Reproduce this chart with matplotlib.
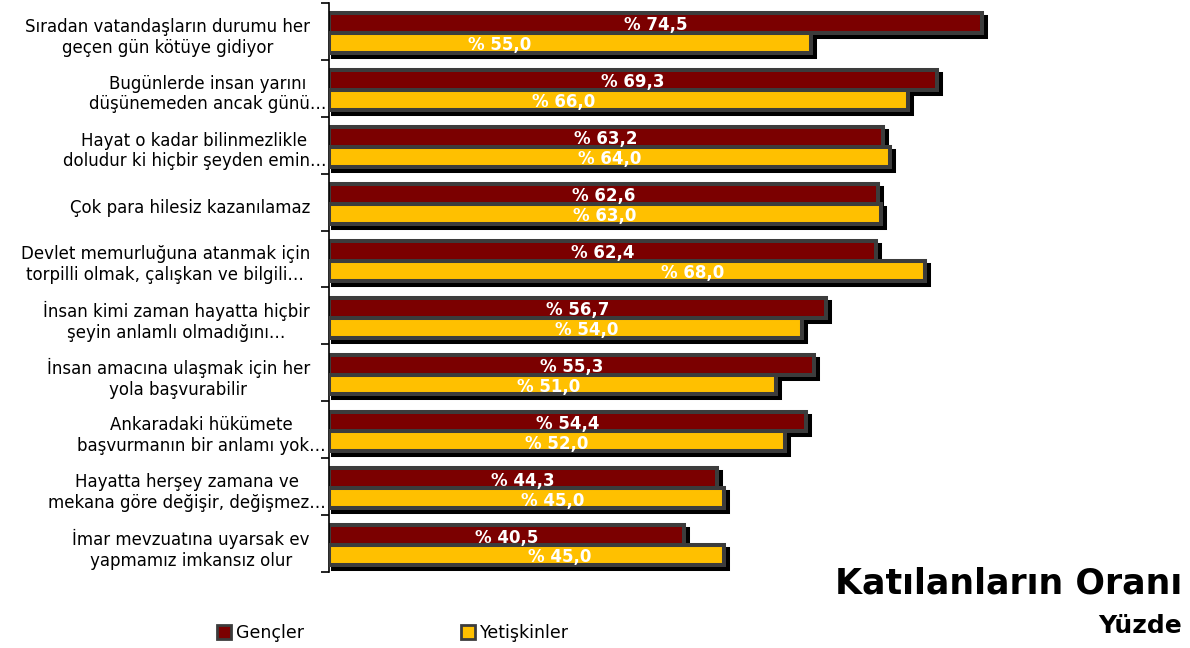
import matplotlib.pyplot as plt
import matplotlib.transforms as mtransforms
from matplotlib.patches import Patch
from matplotlib.textpath import TextPath
from matplotlib.font_manager import FontProperties
import numpy as np

# Veriler
kategoriler = [
    "Sıradan vatandaşların durumu her\ngeçen gün kötüye gidiyor",
    "Bugünlerde insan yarını\ndüşünemeden ancak günü…",
    "Hayat o kadar bilinmezlikle\ndoludur ki hiçbir şeyden emin…",
    "Çok para hilesiz kazanılamaz",
    "Devlet memurluğuna atanmak için\ntorpilli olmak, çalışkan ve bilgili…",
    "İnsan kimi zaman hayatta hiçbir\nşeyin anlamlı olmadığını…",
    "İnsan amacına ulaşmak için her\nyola başvurabilir",
    "Ankaradaki hükümete\nbaşvurmanın bir anlamı yok…",
    "Hayatta herşey zamana ve\nmekana göre değişir, değişmez…",
    "İmar mevzuatına uyarsak ev\nyapmamız imkansız olur",
]
gencler = [74.5, 69.3, 63.2, 62.6, 62.4, 56.7, 55.3, 54.4, 44.3, 40.5]
yetiskinler = [55.0, 66.0, 64.0, 63.0, 68.0, 54.0, 51.0, 52.0, 45.0, 45.0]
seri_adlari = ["Gençler", "Yetişkinler"]

# Yetişkinler etiketlerinin çubuk ortasından kayması (veri biriminde)
etiket_kayma = [-8.0, -6.2, 0.0, 0.0, 7.5, 2.4, -0.5, 0.0, 3.0, 3.8]

kirmizi = "#7b0000"
sari = "#ffc000"
kenar = "#3c3c3c"

fig = plt.figure(figsize=(11.9, 6.48), dpi=100)
ax = fig.add_axes([329 / 1190, 76 / 648, 789 / 1190, 569 / 648])

y = np.arange(len(kategoriler))
h = 0.35
golge = mtransforms.offset_copy(ax.transData, fig=fig, x=4, y=-4, units="dots")
lw = 2.9

# Gölgeler
ax.barh(y - h / 2 + 0.03, gencler, height=h, color="black", edgecolor="black",
        linewidth=lw, transform=golge, zorder=1)
ax.barh(y + h / 2 + 0.03, yetiskinler, height=h, color="black", edgecolor="black",
        linewidth=lw, transform=golge, zorder=1)

# Çubuklar
ax.barh(y - h / 2 + 0.03, gencler, height=h, color=kirmizi, edgecolor=kenar,
        linewidth=lw, zorder=2)
ax.barh(y + h / 2 + 0.03, yetiskinler, height=h, color=sari, edgecolor=kenar,
        linewidth=lw, zorder=3)

# Değer etiketleri
for i in range(len(kategoriler)):
    ax.text(gencler[i] / 2, y[i] - h / 2 + 0.07, "% " + f"{gencler[i]:.1f}".replace(".", ","),
            ha="center", va="center", color="white", fontsize=12,
            fontweight="bold", zorder=5)
    ax.text(yetiskinler[i] / 2 + etiket_kayma[i], y[i] + h / 2 + 0.07,
            "% " + f"{yetiskinler[i]:.1f}".replace(".", ","),
            ha="center", va="center", color="white", fontsize=12,
            fontweight="bold", zorder=5)

ax.set_xlim(0, 90)
ax.set_ylim(len(kategoriler) - 0.5, -0.5)

# Eksen görünümü
for s in ["top", "right", "bottom"]:
    ax.spines[s].set_visible(False)
ax.spines["left"].set_linewidth(1.2)
ax.set_xticks([])
ax.set_yticks(np.arange(len(kategoriler) + 1) - 0.5)
ax.set_yticklabels([])
ax.tick_params(axis="y", direction="out", length=6, width=1.2)

# Kategori etiketleri: en geniş satır "…" ile bitiyorsa taşar
yazi = FontProperties(family="DejaVu Sans", size=12)
karisik = mtransforms.blended_transform_factory(fig.transFigure, ax.transData)
for i, metin in enumerate(kategoriler):
    satirlar = metin.split("\n")
    en_genis = max(satirlar, key=lambda s: TextPath((0, 0), s, prop=yazi).get_extents().width)
    x = 326 if en_genis.endswith("…") else 310
    ax.text(x / 1190, y[i] + 0.1, metin, transform=karisik, ha="right",
            va="center", multialignment="center", fontproperties=yazi,
            linespacing=1.2, color="black")

# Lejant
tutamaclar = [Patch(facecolor=kirmizi, edgecolor=kenar, linewidth=2),
              Patch(facecolor=sari, edgecolor=kenar, linewidth=2)]
fig.legend(tutamaclar, seri_adlari, loc="center", bbox_to_anchor=(393 / 1190, 1 - 633 / 648),
           ncol=2, frameon=False, fontsize=12.5, handlelength=0.8, handleheight=0.8,
           handletextpad=0.3, columnspacing=9.0)

# Başlıklar
fig.text(1182 / 1190, 1 - 584 / 648, "Katılanların Oranı", ha="right", va="center",
         fontsize=25, fontweight="bold")
fig.text(1182 / 1190, 1 - 626 / 648, "Yüzde", ha="right", va="center",
         fontsize=18, fontweight="bold")

fig.savefig("out.png", dpi=100)
